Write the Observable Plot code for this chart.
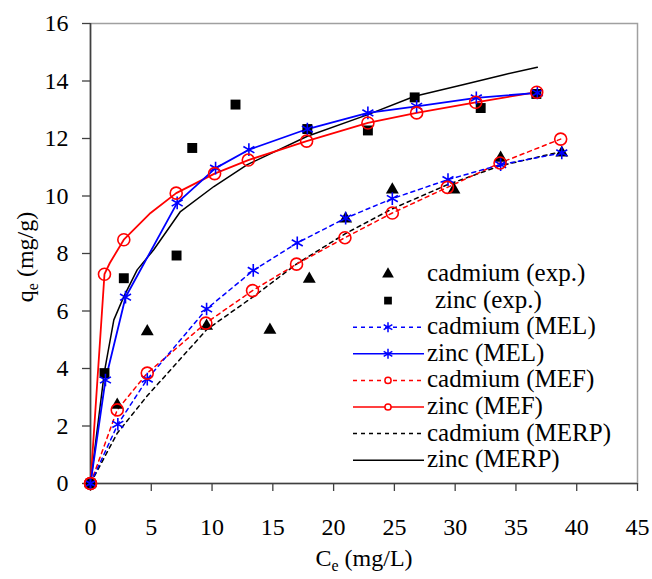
<!DOCTYPE html>
<html><head><meta charset="utf-8">
<script src="https://cdn.jsdelivr.net/npm/d3@7"></script>
<script src="https://cdn.jsdelivr.net/npm/@observablehq/plot@0.6"></script>
<style>
body{margin:0;background:#fff;}
#chart{position:relative;width:652px;height:579px;}
</style></head><body><div id="chart"></div>
<script>
// ---- data ----
const xTicks = [0, 5, 10, 15, 20, 25, 30, 35, 40, 45];
const yTicks = [0, 2, 4, 6, 8, 10, 12, 14, 16];

const cdExpX = [0, 2.2, 4.67, 9.55, 14.76, 18.0, 20.99, 24.83, 29.9, 33.74, 38.77];
const cdExpY = [0, 2.73, 5.29, 5.48, 5.34, 7.11, 9.21, 10.22, 10.22, 11.32, 11.5];

const znExpX = [0, 1.15, 2.74, 7.08, 8.37, 11.93, 17.84, 22.82, 26.67, 32.1, 36.68];
const znExpY = [0, 3.84, 7.14, 7.93, 11.67, 13.18, 12.33, 12.28, 13.43, 13.06, 13.55];

const cdMelX = [0, 2.25, 4.67, 9.55, 13.39, 17.01, 20.99, 24.83, 29.41, 33.74, 38.77];
const cdMelY = [0, 2.06, 3.63, 6.07, 7.41, 8.37, 9.23, 9.91, 10.57, 11.09, 11.5];

const znMelX = [0, 1.23, 2.88, 7.13, 10.29, 13.03, 17.84, 22.82, 26.83, 31.74, 36.76];
const znMelY = [0, 3.6, 6.48, 9.76, 10.97, 11.61, 12.33, 12.89, 13.12, 13.41, 13.59];

const cdMefX = [0, 2.2, 4.67, 9.49, 13.33, 16.95, 20.93, 24.83, 29.36, 33.69, 38.68];
const cdMefY = [0, 2.56, 3.84, 5.58, 6.71, 7.63, 8.55, 9.41, 10.3, 11.15, 11.98];

const znMefX = [0, 1.15, 1.59, 2.74, 4.94, 7.05, 10.21, 12.98, 17.78, 22.82, 26.83, 31.69, 36.71];
const znMefY = [0, 7.28, 7.67, 8.48, 9.41, 10.1, 10.78, 11.25, 11.91, 12.54, 12.89, 13.26, 13.61];
const znMefMark = [1, 1, 0, 1, 0, 1, 1, 1, 1, 1, 1, 1, 1];

const cdMerpX = [0, 2.2, 4.67, 9.55, 13.4, 17.0, 21.0, 24.8, 29.4, 33.7, 38.8];
const cdMerpY = [0, 1.75, 3.05, 5.35, 6.5, 7.65, 8.7, 9.55, 10.4, 11.05, 11.55];

const znMerpX = [0, 1.15, 1.92, 2.74, 3.84, 5.2, 7.4, 10.15, 12.9, 17.84, 22.82, 26.67, 30.72, 34.02, 36.76];
const znMerpY = [0, 3.9, 5.69, 6.5, 7.43, 8.13, 9.46, 10.33, 11.09, 12.08, 12.83, 13.47, 13.88, 14.22, 14.48];

const legendLabels = ["cadmium (exp.)", "zinc (exp.)", "cadmium (MEL)", "zinc (MEL)",
  "cadmium (MEF)", "zinc (MEF)", "cadmium (MERP)", "zinc (MERP)"];

// ---- build tables ----
const rows = (xs, ys, marks) => xs.map((x, i) => ({x, y: ys[i], m: marks ? marks[i] : 1}));
const cdExp = rows(cdExpX, cdExpY), znExp = rows(znExpX, znExpY);
const cdMel = rows(cdMelX, cdMelY), znMel = rows(znMelX, znMelY);
const cdMef = rows(cdMefX, cdMefY), znMef = rows(znMefX, znMefY, znMefMark);
const cdMerp = rows(cdMerpX, cdMerpY), znMerp = rows(znMerpX, znMerpY);

const FONT = "Liberation Serif";
const FS = 24;
const DASH = "4,4";

const plot = Plot.plot({
  width: 652, height: 579,
  marginLeft: 90, marginRight: 15, marginTop: 23, marginBottom: 96,
  x: {domain: [0, 45]},
  y: {domain: [0, 16]},
  marks: [
    Plot.frame({stroke: "#a0a0a0", strokeWidth: 1.5}),
    Plot.axisX({ticks: xTicks, tickSize: 8, tickPadding: 26, label: null, stroke: "#404040", strokeWidth: 1.3, fill: "black", fontSize: FS, fontFamily: FONT}),
    Plot.axisY({ticks: yTicks, tickSize: 8, tickPadding: 14, label: null, stroke: "#404040", strokeWidth: 1.3, fill: "black", fontSize: FS, fontFamily: FONT}),
    Plot.ruleX([0], {stroke: "#404040", strokeWidth: 1.6}),
    Plot.ruleY([0], {stroke: "#404040", strokeWidth: 1.6}),
    Plot.line(cdMerp, {x: "x", y: "y", stroke: "black", strokeWidth: 1.5, strokeDasharray: DASH}),
    Plot.line(cdMef, {x: "x", y: "y", stroke: "red", strokeWidth: 1.5, strokeDasharray: DASH}),
    Plot.line(cdMel, {x: "x", y: "y", stroke: "blue", strokeWidth: 1.5, strokeDasharray: DASH}),
    Plot.line(znMerp, {x: "x", y: "y", stroke: "black", strokeWidth: 1.5}),
    Plot.line(znMef, {x: "x", y: "y", stroke: "red", strokeWidth: 1.8}),
    Plot.line(znMel, {x: "x", y: "y", stroke: "blue", strokeWidth: 1.8}),
    Plot.dot(cdExp, {x: "x", y: "y", symbol: "triangle", fill: "black", r: 4.8}),
    Plot.dot(znExp, {x: "x", y: "y", symbol: "square", fill: "black", r: 5.6}),
    Plot.dot(cdMel.concat(znMel), {x: "x", y: "y", symbol: "asterisk", stroke: "blue", strokeWidth: 1.6, r: 6}),
    Plot.dot(cdMef.concat(znMef).filter(d => d.m), {x: "x", y: "y", symbol: "circle", stroke: "red", fill: "none", strokeWidth: 1.6, r: 6})
  ]
});

document.getElementById("chart").appendChild(plot);
const svg = d3.select(plot).attr("font-family", FONT).attr("font-size", FS)
  .style("font-family", FONT).style("font-size", FS + "px");

// axis titles with subscripts
const yl = svg.append("text").attr("transform", "translate(33,257) rotate(-90)")
  .attr("text-anchor", "middle").attr("fill", "black");
yl.append("tspan").text("q");
yl.append("tspan").attr("font-size", 16).attr("dy", 5).text("e");
yl.append("tspan").attr("dy", -5).text(" (mg/g)");

const xl = svg.append("text").attr("x", 364).attr("y", 566)
  .attr("text-anchor", "middle").attr("fill", "black");
xl.append("tspan").text("C");
xl.append("tspan").attr("font-size", 16).attr("dy", 5).text("e");
xl.append("tspan").attr("dy", -5).text(" (mg/L)");

// legend (inside the plot area, right side)
const leg = [
  {sym: d3.symbolTriangle, fill: "black", stroke: "none", line: null},
  {sym: d3.symbolSquare, fill: "black", stroke: "none", line: null},
  {sym: d3.symbolAsterisk, fill: "none", stroke: "blue", line: "blue", dash: DASH},
  {sym: d3.symbolAsterisk, fill: "none", stroke: "blue", line: "blue", dash: null},
  {sym: d3.symbolCircle, fill: "white", stroke: "red", line: "red", dash: DASH},
  {sym: d3.symbolCircle, fill: "white", stroke: "red", line: "red", dash: null},
  {sym: null, line: "black", dash: DASH},
  {sym: null, line: "black", dash: null}
];
const lg = svg.append("g").attr("text-anchor", "start");
leg.forEach((e, i) => {
  const base = 281 + i * 26.6;
  const cy = base - 7;
  if (e.line) {
    lg.append("line").attr("x1", 353).attr("x2", 424).attr("y1", cy).attr("y2", cy)
      .attr("stroke", e.line).attr("stroke-width", 1.5).attr("stroke-dasharray", e.dash);
  }
  if (e.sym) {
    const size = e.sym === d3.symbolCircle ? 30 : (e.sym === d3.symbolAsterisk ? 70 : 60);
    lg.append("path").attr("d", d3.symbol(e.sym, size)()).attr("transform", `translate(388,${cy})`)
      .attr("fill", e.fill).attr("stroke", e.stroke).attr("stroke-width", 1.5);
  }
  lg.append("text").attr("x", i === 1 ? 435 : 427).attr("y", base).attr("text-anchor", "start")
    .attr("font-size", 25).attr("fill", "black").text(legendLabels[i]);
});

// make sure every text uses the serif face
svg.selectAll("text, tspan").attr("font-family", FONT).style("font-family", FONT);
svg.selectAll("text").filter(function() { return !this.getAttribute("font-size"); }).attr("font-size", FS);
</script></body></html>
